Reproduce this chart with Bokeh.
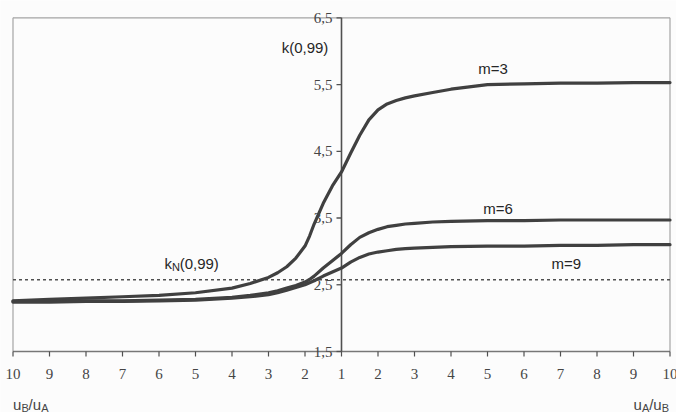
from bokeh.plotting import figure
from bokeh.models import Label, LabelSet, ColumnDataSource, Range1d
from bokeh.embed import file_html
from bokeh.resources import INLINE

# ratio values: left half is u_B/u_A, right half is u_A/u_B
ratio_left = [10, 9, 8, 7, 6, 5, 4, 3.5, 3, 2.75, 2.5, 2.25, 2, 1.875, 1.75, 1.5, 1.25, 1]
ratio_right = [1, 1.25, 1.5, 1.75, 2, 2.25, 2.5, 2.75, 3, 3.5, 4, 5, 6, 7, 8, 9, 10]

m3_left = [2.26, 2.28, 2.30, 2.32, 2.34, 2.38, 2.45, 2.52, 2.61, 2.68, 2.77, 2.90, 3.08, 3.23, 3.41, 3.72, 3.98, 4.19]
m3_right = [4.19, 4.47, 4.74, 4.97, 5.12, 5.21, 5.26, 5.30, 5.33, 5.38, 5.43, 5.50, 5.51, 5.52, 5.52, 5.53, 5.53]
m6_left = [2.25, 2.25, 2.26, 2.26, 2.27, 2.28, 2.31, 2.34, 2.38, 2.41, 2.45, 2.49, 2.54, 2.58, 2.63, 2.75, 2.86, 2.97]
m6_right = [2.97, 3.10, 3.21, 3.28, 3.33, 3.37, 3.39, 3.41, 3.42, 3.44, 3.45, 3.46, 3.46, 3.47, 3.47, 3.47, 3.47]
m9_left = [2.24, 2.24, 2.25, 2.25, 2.26, 2.27, 2.30, 2.32, 2.35, 2.38, 2.42, 2.46, 2.50, 2.53, 2.56, 2.63, 2.69, 2.75]
m9_right = [2.75, 2.84, 2.91, 2.96, 2.99, 3.01, 3.03, 3.04, 3.05, 3.06, 3.07, 3.08, 3.08, 3.09, 3.09, 3.10, 3.10]

kN = 2.576  # k_N(0,99)

x_tick_ratios = [10, 9, 8, 7, 6, 5, 4, 3, 2, 1, 2, 3, 4, 5, 6, 7, 8, 9, 10]
x_tick_side = [-1] * 9 + [0] + [1] * 9
y_ticks = [1.5, 2.5, 3.5, 4.5, 5.5, 6.5]
y_tick_labels = ["1,5", "2,5", "3,5", "4,5", "5,5", "6,5"]

FONT = "Liberation Sans"
TXT = "#454545"
TXT_DARK = "#262626"
CURVE = "#404040"
AXIS = "#505050"

W, H = 676, 412
# pixel placement of the chart box inside the canvas
PX_L, PX_R, PX_T, PX_B = 12.5, 669.5, 17.3, 351.0
X0, X1, Y0, Y1 = -9, 9, 1.5, 6.5
sx = (PX_R - PX_L) / (X1 - X0)
sy = (PX_B - PX_T) / (Y1 - Y0)


def pos_left(u):
    return -(u - 1)


def pos_right(u):
    return u - 1


p = figure(width=W, height=H,
           x_range=Range1d(X0 - PX_L / sx, X1 + (W - PX_R) / sx),
           y_range=Range1d(Y0 - (H - PX_B) / sy, Y1 + PX_T / sy),
           min_border=0, x_axis_location=None, y_axis_location=None,
           output_backend="svg", toolbar_location=None)
p.background_fill_color = "#fcfcfc"
p.border_fill_color = "#fcfcfc"
p.grid.visible = False
p.outline_line_color = None

# chart box (top, left, right)
p.segment(x0=[X0, X0, X1], x1=[X1, X0, X1], y0=[Y1, Y0, Y0], y1=[Y1, Y1, Y1],
          line_color="#a4a4a4", line_width=1.2)

# bottom axis with mirrored ratio labels
x_tick_pos = [s * (r - 1) for s, r in zip(x_tick_side, x_tick_ratios)]
p.segment(x0=[X0], x1=[X1], y0=[Y0], y1=[Y0], line_color="#777777", line_width=1.4)
p.segment(x0=x_tick_pos, x1=x_tick_pos, y0=[Y0] * len(x_tick_pos),
          y1=[Y0 - 5 / sy] * len(x_tick_pos), line_color=AXIS, line_width=1.2)
xsrc = ColumnDataSource(dict(x=x_tick_pos, y=[Y0] * len(x_tick_pos),
                             t=[str(r) for r in x_tick_ratios]))
p.add_layout(LabelSet(x="x", y="y", text="t", source=xsrc, y_offset=-22,
                      text_align="center", text_baseline="middle",
                      text_font=FONT, text_font_size="15px", text_color=TXT))

# central vertical axis
p.segment(x0=[0], x1=[0], y0=[Y0], y1=[Y1], line_color=AXIS, line_width=1.6)
p.segment(x0=[0] * len(y_ticks), x1=[-5 / sx] * len(y_ticks), y0=y_ticks, y1=y_ticks,
          line_color=AXIS, line_width=1.3)
ysrc = ColumnDataSource(dict(x=[0] * len(y_ticks), y=y_ticks, t=y_tick_labels))
p.add_layout(LabelSet(x="x", y="y", text="t", source=ysrc, x_offset=-9,
                      text_align="right", text_baseline="middle",
                      text_font=FONT, text_font_size="15px", text_color=TXT))

# k_N reference line
p.segment(x0=[X0], x1=[X1], y0=[kN], y1=[kN], line_color=AXIS,
          line_width=1.6, line_dash="3 3")

# curves
for left, right in [(m3_left, m3_right), (m6_left, m6_right), (m9_left, m9_right)]:
    xs = [pos_left(u) for u in ratio_left] + [pos_right(u) for u in ratio_right[1:]]
    ys = left + right[1:]
    p.line(xs, ys, line_color=CURVE, line_width=3.2, line_join="round", line_cap="round")


def label(x, y, text, size="15px", align="left", xo=0, yo=0, baseline="middle", color=TXT_DARK):
    p.add_layout(Label(x=x, y=y, text=text, x_offset=xo, y_offset=yo, text_align=align,
                       text_baseline=baseline, text_font=FONT, text_font_size=size,
                       text_color=color))


label(-0.36, 6.06, "k(0,99)", align="right")
label(4.15, 5.74, "m=3", align="center")
label(4.29, 3.65, "m=6", align="center")
label(6.16, 2.82, "m=9", align="center")

# k_N(0,99) with subscript
label(-4.85, 2.82, "k")
label(-4.85, 2.82, "N", size="11px", xo=7.6, yo=-4)
label(-4.85, 2.82, "(0,99)", xo=15.2)

# ratio names under the axis
label(X0, Y0, "u", yo=-53, baseline="alphabetic", color=TXT)
label(X0, Y0, "B", size="11px", xo=8.4, yo=-56, baseline="alphabetic", color=TXT)
label(X0, Y0, "/u", xo=15.6, yo=-53, baseline="alphabetic", color=TXT)
label(X0, Y0, "A", size="11px", xo=28.2, yo=-56, baseline="alphabetic", color=TXT)

label(X1, Y0, "u", xo=-36.5, yo=-53, baseline="alphabetic", color=TXT)
label(X1, Y0, "A", size="11px", xo=-28.1, yo=-56, baseline="alphabetic", color=TXT)
label(X1, Y0, "/u", xo=-20.8, yo=-53, baseline="alphabetic", color=TXT)
label(X1, Y0, "B", size="11px", xo=-8.3, yo=-56, baseline="alphabetic", color=TXT)

open("out.html", "w").write(file_html(p, INLINE))
